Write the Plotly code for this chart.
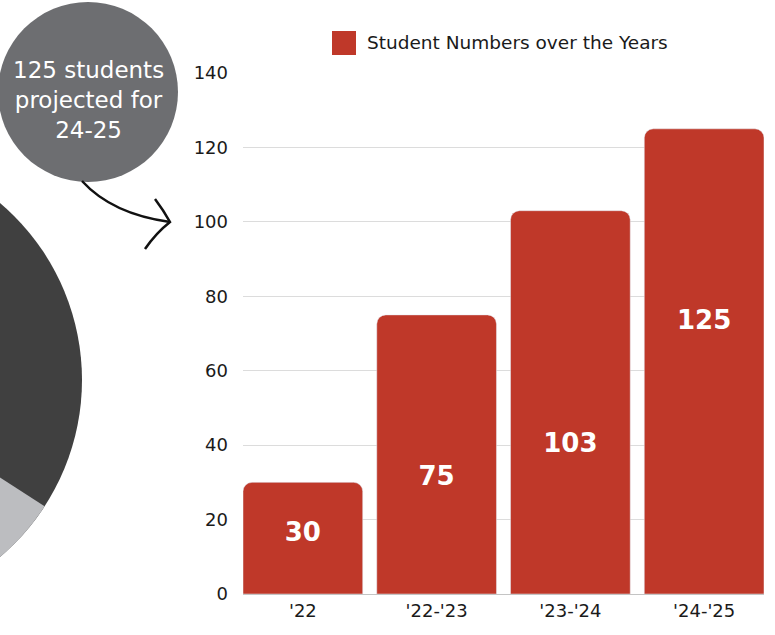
import math
import plotly.graph_objects as go

# ---- data ----
categories = ["'22", "'22-'23", "'23-'24", "'24-'25"]
students = [30, 75, 103, 125]
label_y = [16, 31, 40, 73]  # vertical position of the value labels inside bars
series_name = "Student Numbers over the Years"
callout_text = "125 students<br>projected for<br>24-25"

BAR_RED = "#bf3829"
FONT = "DejaVu Sans"
W, H = 775, 635
ML, MR, MT, MB = 243, 11, 73, 41
PW, PH = W - ML - MR, H - MT - MB
GAP = 0.105


def px(x):
    return (x - ML) / PW


def py(y):
    return (H - MB - y) / PH


fig = go.Figure()
fig.add_trace(go.Bar(
    x=categories, y=students, name=series_name,
    marker=dict(color=BAR_RED, cornerradius=9),
    hoverinfo="x+y", showlegend=False,
))
fig.add_trace(go.Scatter(
    x=categories, y=label_y, mode="text",
    text=[str(v) for v in students],
    textfont=dict(color="white", size=26, family=FONT, weight="bold"),
    showlegend=False, hoverinfo="skip",
))

shapes = []
# big dark circle (decorative pie) partially off the left edge
cx, cy, r = -150, 380, 232
shapes.append(dict(type="circle", xref="paper", yref="paper",
                   x0=px(cx - r), x1=px(cx + r), y0=py(cy + r), y1=py(cy - r),
                   fillcolor="#404040", line=dict(width=0), layer="above"))
# light grey wedge
pts = [(cx, cy)]
for i in range(0, 61):
    a = math.radians(33 + i * 1.5)
    pts.append((cx + r * math.cos(a), cy + r * math.sin(a)))
path = "M " + " L ".join(f"{px(x):.5f},{py(y):.5f}" for x, y in pts) + " Z"
shapes.append(dict(type="path", xref="paper", yref="paper", path=path,
                   fillcolor="#bcbdc0", line=dict(width=0), layer="above"))
# callout circle
ccx, ccy, cr = 88, 92, 90
shapes.append(dict(type="circle", xref="paper", yref="paper",
                   x0=px(ccx - cr), x1=px(ccx + cr), y0=py(ccy + cr), y1=py(ccy - cr),
                   fillcolor="#6d6e71", line=dict(width=0), layer="above"))
# curved arrow
arrow = f"M {px(82)},{py(181)} Q {px(112)},{py(214)} {px(170)},{py(222)}"
shapes.append(dict(type="path", xref="paper", yref="paper", path=arrow,
                   line=dict(color="#111111", width=2.5), layer="above"))
head = (f"M {px(155)},{py(199)} Q {px(164)},{py(211)} {px(170)},{py(222)} "
        f"Q {px(156)},{py(233)} {px(145)},{py(249)}")
shapes.append(dict(type="path", xref="paper", yref="paper", path=head,
                   line=dict(color="#111111", width=2.5), layer="above"))
# legend swatch
shapes.append(dict(type="rect", xref="paper", yref="paper",
                   x0=px(332), x1=px(356), y0=py(55), y1=py(31),
                   fillcolor=BAR_RED, line=dict(width=0)))

fig.update_layout(
    width=W, height=H,
    margin=dict(l=ML, r=MR, t=MT, b=MB),
    paper_bgcolor="white", plot_bgcolor="white",
    font=dict(family=FONT, size=18, color="#1a1a1a"),
    bargap=GAP,
    showlegend=False,
    xaxis=dict(showgrid=False, showline=True, linecolor="#c4c4c4", linewidth=1,
               ticks="", tickfont=dict(size=18),
               range=[-0.5 + GAP / 2, len(categories) - 0.5 - GAP / 2]),
    yaxis=dict(range=[0, 140], dtick=20, showgrid=True, gridcolor="#dcdcdc",
               gridwidth=1, zeroline=False, ticks="", ticklabelstandoff=14,
               tickfont=dict(size=18)),
    shapes=shapes,
    annotations=[
        dict(xref="paper", yref="paper", x=px(88), y=py(100),
             text=callout_text, showarrow=False, align="center",
             font=dict(color="white", size=23, family=FONT),
             xanchor="center", yanchor="middle"),
        dict(xref="paper", yref="paper", x=px(365), y=py(43),
             text=series_name, showarrow=False, align="left",
             font=dict(color="#1a1a1a", size=18.5, family=FONT),
             xanchor="left", yanchor="middle"),
    ],
)

fig.write_html(
    "out.html",
    config={"displayModeBar": False},
    post_script="document.body.style.margin='0';document.body.style.overflow='hidden';",
)
